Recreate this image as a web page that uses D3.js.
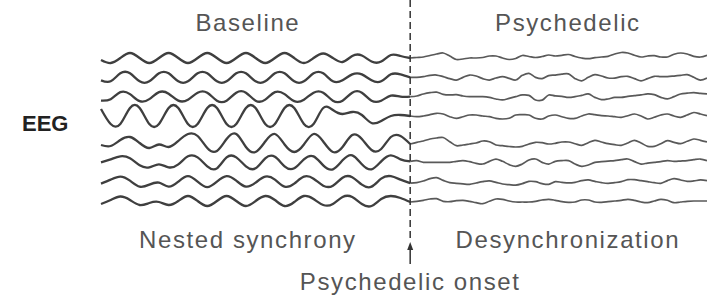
<!DOCTYPE html>
<html>
<head>
<meta charset="utf-8">
<script src="https://d3js.org/d3.v7.min.js"></script>
<style>
  body { margin: 0; background: #fff; }
  svg { display: block; }
  .lbl { font-family: "Liberation Sans", Arial, sans-serif; font-size: 24px; fill: #555; letter-spacing: 1.6px; }
</style>
</head>
<body>
<script>
// 8 EEG channels, sampled every 1/32 s before onset and ~21 ms after it
var channels = ["Ch1", "Ch2", "Ch3", "Ch4", "Ch5", "Ch6", "Ch7", "Ch8"];

// baseline (0 - 1000 ms)
var base1 = [-2,-5,0,5,0,-5,0,5,0,-5,0,5,0,-5,0,5,0,-5,0,5,0,-5,0,4.5,0,-4,2,2.5,-3.5,-3.5,3,2,0];
var base2 = [-3,-4,4,4,-4,-4,4,4,-4,-4,4,4,-4,-4,4,4,-4,-4,4,4,-4,-4,4,4,-4,-3,3,3,-3,-4,3,3,0];
var base3 = [-4,-2.5,4.5,2.5,-4.5,-2.5,4.5,3,-4,-3,4,4,-4,-4,4,4,-4,-3,4.5,2.5,-4.5,-3,4,4,-4,-4,4,4,-4,-4,1,0,0];
var base4 = [7,-8,-8,8,8,-8,-8,8,8,-8,-8,8,8,-8,-8,8,8,-8,-8,8,8,-8,-8,8,6,2,4,1,-7,-5,0,1,0];
var base5 = [-2,-3,3,6,0,-5,-1.5,-4,2,9,7,-5,-8,4,9,-4,-9,1.5,9,-1.5,-9,-1.5,9,1.5,-9,-4,8,4,-7,-6,6,7,-1];
var base6 = [0,3,6,4,-3,-5,-2,-5,-2,6,5,-4,-6,5,5,-4,-6,4,5.5,-4,-6,3,6,-3,-7,2,7,-2,-7,1,7,3,1];
var base7 = [-2,2,5,1,-5,-3,-1,-5,0,5.5,0,-5.5,0,5.5,1,-5,-1,5,2,-5,-2,5,3,-4,-4,4,4.5,-3,-5,3,5.5,2,-1.5];
var base8 = [-3,1,4.5,1,-4,-2,-1,-4,0,5,0,-5,0,5,0,-5,0,5,1,-5,-1,5,2,-4,-3,4,4,-3,-5,2,5,3,-1];

// psychedelic (1000 - 1960 ms)
var psy1 = [0,0.5,1,2.5,4,5,2,-1.5,-1,0,0,0.5,2,2,0,-1.5,-0.5,2.5,1.5,0.5,1.5,3,2,2.7,3.5,1.5,0,-0.7,0.3,1,1.7,4,5.5,5,2.7,1,2,2.3,1,1,3.7,5,4,1.7,1,2.7];
var psy2 = [0,0,0.7,2,2.3,0.7,-1.3,-2.7,0,2.3,1.3,-1.3,-2.7,-0.7,0.7,-1,-2.7,2,4,0,-1.3,1.7,2.3,3.3,3.5,-1.3,-3.5,0,2.7,1.3,-0.7,-0.7,0.7,1,-1.3,-3.5,-1.3,1,0.7,0.7,1.3,2,2.7,0,-2.7,-0.7];
var psy3 = [0,0.7,2.7,4,4.5,2.3,1.7,2,0.7,0,0,0,-0.7,-2.3,-3.3,-1.7,0,1.7,1.3,-3.3,-3.5,1.7,0.7,0.3,-0.7,0,1.3,2.7,-0.7,-3,-2.3,-0.7,-0.7,0.3,1,1.7,2.7,2,-0.7,-2.3,0,2.7,3.5,4,3.3,2.7];
var psy4 = [0,-0.7,0,1.3,2.7,2,-0.7,-2.3,-0.7,1,1,0,-0.7,-2.3,-3,-2.3,1,1.3,1,-2.3,-3,0,1,-0.7,-2.3,-2.3,0,2,1.3,0.3,0,-0.7,-1.3,0.3,2,0,-3,-1.3,1,2,0,-1.3,1,3.5,2,0.3];
var psy5 = [-1,0.7,2,4,5,5.5,1.3,-2.7,-2,-1,0,2,1.3,-2,-2.7,-3.5,-4,-3.3,-1,0.7,0.3,-1,-0.3,1,1,-0.7,-2.3,0.3,2.7,1,-0.7,-1.7,-2.3,0,2.7,0,-3.3,-3.3,-0.7,2.3,0.7,-0.7,1.7,4,2.7,1];
var psy6 = [1,1.7,0,0,0,0,0,1,1.7,0.7,-1,-1.7,1,3.3,1,-2.3,-4,-1.7,2.3,3.3,0,-1.7,1,1.7,1.7,-1.7,-4,-2.7,0,0.7,1.3,1.7,2.7,3.3,0.7,-1.7,-0.7,0,0.7,1.7,1,1.3,1.7,2.7,3.3,1.7];
var psy7 = [-1.5,-1,0.7,3,4,1.3,-1,-1.7,-2.3,-2.7,-1.3,0,0.7,-0.7,-2.3,-3,-3.5,-2,0.3,0,-2,-2.7,0,-0.7,-1.3,-0.7,1,1.7,0.3,-1,-1.7,-1,0,2,2,1,0,-1,-1.7,1,3,1.7,0.3,0.7,1.7,1];
var psy8 = [-1,-0.3,0.7,2,2.3,-0.3,-0.7,0.3,0.7,-0.3,-1.7,-2.7,-0.3,2,1.7,0,-1,-1,-1,-0.3,1,1.7,0.7,-0.7,-1.3,-1,1,1,-1,-1.3,-0.7,0,0.7,1.7,0.7,-1,-1.7,0,1.7,0.7,-1.7,-1,-0.3,0,0,0];

var baseTraces = [base1, base2, base3, base4, base5, base6, base7, base8];
var psyTraces = [psy1, psy2, psy3, psy4, psy5, psy6, psy7, psy8];

var topLabels = ["Baseline", "Psychedelic"];
var bottomLabels = ["Nested synchrony", "Desynchronization"];
var onsetLabel = "Psychedelic onset";
var onsetTime = 1000;
var endTime = 1960;

var width = 707, height = 298;

var svg = d3.select("body").append("svg")
    .attr("width", width)
    .attr("height", height);

var x = d3.scaleLinear().domain([0, endTime]).range([101, 707]);
// two groups of four channels with a small gap between them
var row = d3.scaleLinear().domain([0, 3, 4, 7]).range([58, 116, 143, 201]);
var amp = d3.scaleLinear().domain([-10, 10]).range([10, -10]);

var baseStep = onsetTime / (base1.length - 1);
var psyStep = (endTime - onsetTime) / (psy1.length - 1);

var baseLine = d3.line().curve(d3.curveNatural);
var psyLine = d3.line().curve(d3.curveCatmullRom.alpha(0.5));

var traces = svg.append("g");

channels.forEach(function(ch, i) {
    var bpts = baseTraces[i].map((v, j) => [x(j * baseStep), row(i) + amp(v)]);
    var ppts = psyTraces[i].map((v, k) => [x(onsetTime + k * psyStep), row(i) + amp(v)]);
    // join the two segments at the onset
    ppts[0] = bpts[bpts.length - 1];

    traces.append("path")
        .attr("d", psyLine(ppts))
        .attr("fill", "none")
        .attr("stroke", "#595959")
        .attr("stroke-width", 1.7)
        .attr("stroke-linejoin", "round");

    traces.append("path")
        .attr("d", baseLine(bpts))
        .attr("fill", "none")
        .attr("stroke", "#3f3f3f")
        .attr("stroke-width", 2.3)
        .attr("stroke-linejoin", "round");
});

// onset marker
var xo = x(onsetTime);
svg.append("line")
    .attr("x1", xo).attr("x2", xo)
    .attr("y1", 0).attr("y2", 239)
    .attr("stroke", "#333")
    .attr("stroke-width", 1.5)
    .attr("stroke-dasharray", "7,4");

svg.append("line")
    .attr("x1", xo).attr("x2", xo)
    .attr("y1", 247).attr("y2", 264)
    .attr("stroke", "#333")
    .attr("stroke-width", 1.5);

svg.append("path")
    .attr("d", "M" + xo + ",242 L" + (xo - 3) + ",250 L" + (xo + 3) + ",250 Z")
    .attr("fill", "#333");

// labels
svg.selectAll(".top").data(topLabels).enter()
    .append("text")
    .attr("class", "lbl top")
    .attr("x", (d, i) => i == 0 ? x(475) : x(1510))
    .attr("y", 31)
    .attr("text-anchor", "middle")
    .text(d => d);

svg.selectAll(".bottom").data(bottomLabels).enter()
    .append("text")
    .attr("class", "lbl bottom")
    .attr("x", (d, i) => i == 0 ? x(475) : x(1510))
    .attr("y", 248)
    .attr("text-anchor", "middle")
    .text(d => d);

svg.append("text")
    .attr("class", "lbl")
    .attr("x", xo)
    .attr("y", 290)
    .attr("text-anchor", "middle")
    .text(onsetLabel);

svg.append("text")
    .attr("x", 22)
    .attr("y", 131)
    .attr("font-family", "Liberation Sans, Arial, sans-serif")
    .attr("font-size", 22)
    .attr("font-weight", "bold")
    .attr("fill", "#222")
    .text("EEG");
</script>
</body>
</html>
